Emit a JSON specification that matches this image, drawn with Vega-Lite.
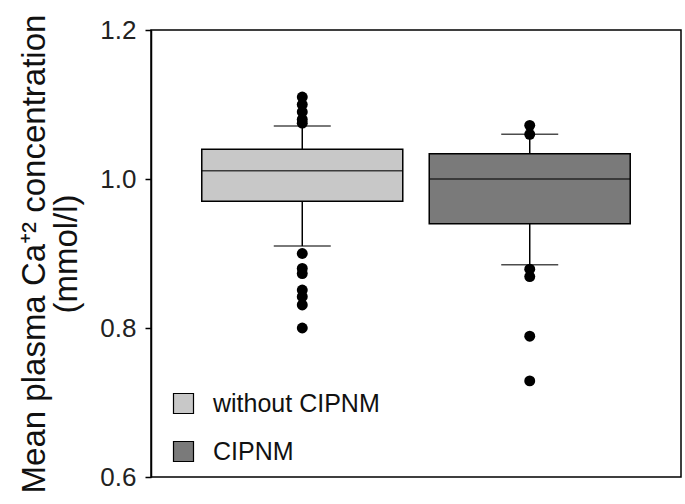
{
  "$schema": "https://vega.github.io/schema/vega-lite/v6.json",
  "width": 530,
  "height": 447,
  "autosize": "none",
  "padding": {"left": 151, "top": 30, "right": 4, "bottom": 27},
  "background": "white",
  "config": {
    "view": {"stroke": "black", "strokeWidth": 1.5},
    "font": "Liberation Sans"
  },
  "datasets": {
    "boxes": [
      {"group": "without CIPNM", "lower": 0.91, "q1": 0.97, "median": 1.011, "q3": 1.04, "upper": 1.071},
      {"group": "CIPNM", "lower": 0.885, "q1": 0.94, "median": 1.0, "q3": 1.034, "upper": 1.06}
    ],
    "outliers": [
      {"group": "without CIPNM", "value": 1.11},
      {"group": "without CIPNM", "value": 1.10},
      {"group": "without CIPNM", "value": 1.09},
      {"group": "without CIPNM", "value": 1.08},
      {"group": "without CIPNM", "value": 1.075},
      {"group": "without CIPNM", "value": 0.90},
      {"group": "without CIPNM", "value": 0.88},
      {"group": "without CIPNM", "value": 0.873},
      {"group": "without CIPNM", "value": 0.851},
      {"group": "without CIPNM", "value": 0.842},
      {"group": "without CIPNM", "value": 0.831},
      {"group": "without CIPNM", "value": 0.80},
      {"group": "CIPNM", "value": 1.072},
      {"group": "CIPNM", "value": 1.06},
      {"group": "CIPNM", "value": 0.879},
      {"group": "CIPNM", "value": 0.869},
      {"group": "CIPNM", "value": 0.789},
      {"group": "CIPNM", "value": 0.729}
    ]
  },
  "encoding": {
    "x": {
      "field": "group",
      "type": "nominal",
      "sort": ["without CIPNM", "CIPNM"],
      "scale": {"domain": ["without CIPNM", "CIPNM"], "paddingInner": 0, "paddingOuter": 0.165},
      "axis": null
    }
  },
  "layer": [
    {
      "data": {"name": "boxes"},
      "mark": {"type": "rule", "color": "black", "strokeWidth": 1.5},
      "encoding": {
        "y": {"field": "lower", "type": "quantitative"},
        "y2": {"field": "upper"}
      }
    },
    {
      "data": {"name": "boxes"},
      "mark": {"type": "bar", "size": 201, "stroke": "black", "strokeWidth": 1.5},
      "encoding": {
        "y": {
          "field": "q1",
          "type": "quantitative",
          "scale": {"domain": [0.6, 1.2], "nice": false, "zero": false},
          "axis": {
            "values": [0.6, 0.8, 1.0, 1.2],
            "format": ".1f",
            "grid": false,
            "labelFontSize": 26,
            "labelColor": "#222",
            "labelPadding": 9,
            "tickSize": 6,
            "tickColor": "black",
            "tickWidth": 1.5,
            "domainColor": "black",
            "domainWidth": 1.5,
            "title": ["Mean plasma Ca⁺² concentration", "(mmol/l)"],
            "titleFontSize": 33,
            "titleFontWeight": "normal",
            "titleColor": "#111",
            "titleLineHeight": 32,
            "titlePadding": 16
          }
        },
        "y2": {"field": "q3"},
        "color": {
          "field": "group",
          "type": "nominal",
          "scale": {"domain": ["without CIPNM", "CIPNM"], "range": ["#c8c8c8", "#7a7a7a"]},
          "legend": {
            "title": null,
            "orient": "none",
            "legendX": 20,
            "legendY": 361,
            "symbolType": "square",
            "symbolSize": 400,
            "symbolStrokeColor": "black",
            "symbolStrokeWidth": 1.2,
            "labelFontSize": 25,
            "labelLimit": 400,
            "labelColor": "#111",
            "labelOffset": 17,
            "rowPadding": 22
          }
        }
      }
    },
    {
      "data": {"name": "boxes"},
      "mark": {"type": "tick", "color": "black", "size": 201, "thickness": 1.5},
      "encoding": {"y": {"field": "median", "type": "quantitative"}}
    },
    {
      "data": {"name": "boxes"},
      "mark": {"type": "tick", "color": "black", "size": 57, "thickness": 1.5},
      "encoding": {"y": {"field": "lower", "type": "quantitative"}}
    },
    {
      "data": {"name": "boxes"},
      "mark": {"type": "tick", "color": "black", "size": 57, "thickness": 1.5},
      "encoding": {"y": {"field": "upper", "type": "quantitative"}}
    },
    {
      "data": {"name": "outliers"},
      "mark": {"type": "point", "filled": true, "color": "black", "size": 120, "opacity": 1},
      "encoding": {"y": {"field": "value", "type": "quantitative"}}
    }
  ]
}
